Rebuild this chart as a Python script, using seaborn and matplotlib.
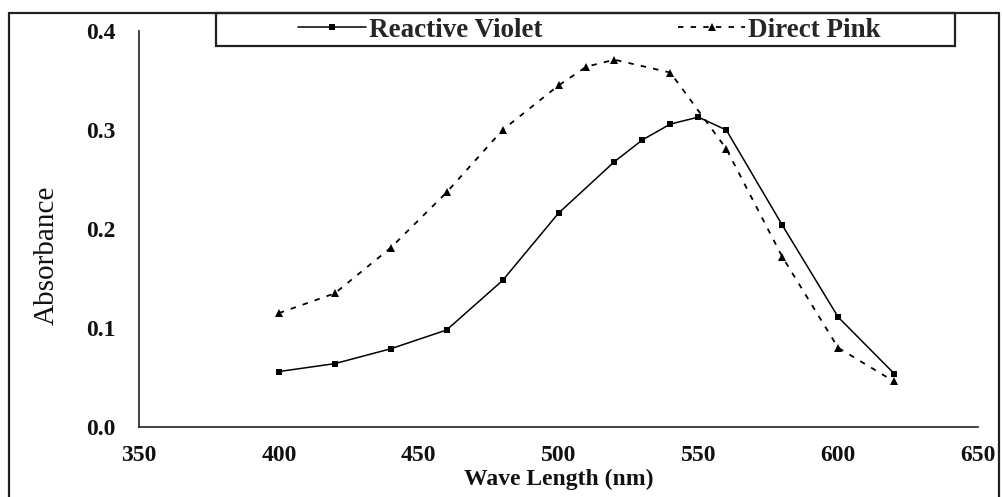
import matplotlib
matplotlib.use("Agg")
import matplotlib.pyplot as plt
from matplotlib.lines import Line2D
from matplotlib.patches import Rectangle
import seaborn as sns
import pandas as pd

# ---- data ----
violet_wl = [400, 420, 440, 460, 480, 500, 520, 530, 540, 550, 560, 580, 600, 620]
violet_abs = [0.056, 0.064, 0.079, 0.098, 0.148, 0.216, 0.268, 0.290, 0.306, 0.313, 0.300, 0.204, 0.111, 0.054]
pink_wl = [400, 420, 440, 460, 480, 500, 510, 520, 540, 560, 580, 600, 620]
pink_abs = [0.115, 0.135, 0.181, 0.237, 0.300, 0.345, 0.364, 0.371, 0.358, 0.281, 0.172, 0.080, 0.046]
series_names = ["Reactive Violet", "Direct Pink"]
x_ticks = [350, 400, 450, 500, 550, 600, 650]
y_ticks = [0.0, 0.1, 0.2, 0.3, 0.4]
x_label = "Wave Length (nm)"
y_label = "Absorbance"

W, H = 1002, 497
sns.set_theme(style="white")
plt.rcParams["font.family"] = ["Liberation Serif", "DejaVu Serif"]

fig = plt.figure(figsize=(W / 100, H / 100), dpi=100)
ax = fig.add_axes([139 / W, 1 - 427 / H, (978 - 139) / W, (427 - 31) / H])

df_v = pd.DataFrame({"wl": violet_wl, "abs": violet_abs})
df_p = pd.DataFrame({"wl": pink_wl, "abs": pink_abs})

sns.lineplot(data=df_v, x="wl", y="abs", ax=ax, color="black", lw=1.1,
             marker="s", markersize=3.8, markeredgewidth=0, label=series_names[0])
sns.lineplot(data=df_p, x="wl", y="abs", ax=ax, color="black", lw=1.3,
             linestyle=(0, (3, 4)), marker="^", markersize=5.5, markeredgewidth=0,
             label=series_names[1])

ax.set_xlim(350, 650)
ax.set_ylim(0, 0.4)
ax.set_xticks(x_ticks)
ax.set_yticks(y_ticks)
ax.set_yticklabels([f"{v:.1f}" for v in y_ticks])
for s in ["top", "right"]:
    ax.spines[s].set_visible(False)
for s in ["left", "bottom"]:
    ax.spines[s].set_color("#222222")
    ax.spines[s].set_linewidth(1.2)
ax.tick_params(axis="x", direction="out", length=5, width=1.2, color="#222222",
               pad=8, labelsize=17)
ax.tick_params(axis="y", direction="out", length=3, width=1.2, color="#222222",
               pad=14, labelsize=17)
for lab in ax.get_xticklabels() + ax.get_yticklabels():
    lab.set_fontweight("bold")
    lab.set_color("#111111")
ax.set_xlabel(x_label, fontsize=17, fontweight="bold", color="#111111")
ax.set_ylabel(y_label, fontsize=21, color="#111111")
ax.xaxis.set_label_coords(0.5, -0.106)
ax.yaxis.set_label_coords(-0.094, 0.434)
if ax.legend_:
    ax.legend_.remove()

# legend box
lx0, lx1, ly0, ly1 = 216, 955, 12.7, 46
fig.add_artist(Rectangle((lx0 / W, 1 - ly1 / H), (lx1 - lx0) / W, (ly1 - ly0) / H,
                         transform=fig.transFigure, fill=False, ec="#222222", lw=1.6))
handles, labels = ax.get_legend_handles_labels()
leg = fig.legend(handles, labels, loc="center",
                 bbox_to_anchor=((lx0 + lx1) / 2 / W + 0.004, 1 - (ly0 + ly1 + 2) / 2 / H),
                 ncol=2, frameon=False, handlelength=2.5, handletextpad=0.1,
                 columnspacing=5.0, prop={"family": "Liberation Serif", "weight": "bold", "size": 19.5})

# outer border
for (x0, y0, x1, y1) in [(9, 12.7, 9, H), (9, 12.7, 999, 12.7), (999, 12.7, 999, H)]:
    fig.add_artist(Line2D([x0 / W, x1 / W], [1 - y0 / H, 1 - y1 / H],
                          transform=fig.transFigure, color="#222222", lw=1.6))

fig.savefig("out.png", dpi=100, facecolor="white")
